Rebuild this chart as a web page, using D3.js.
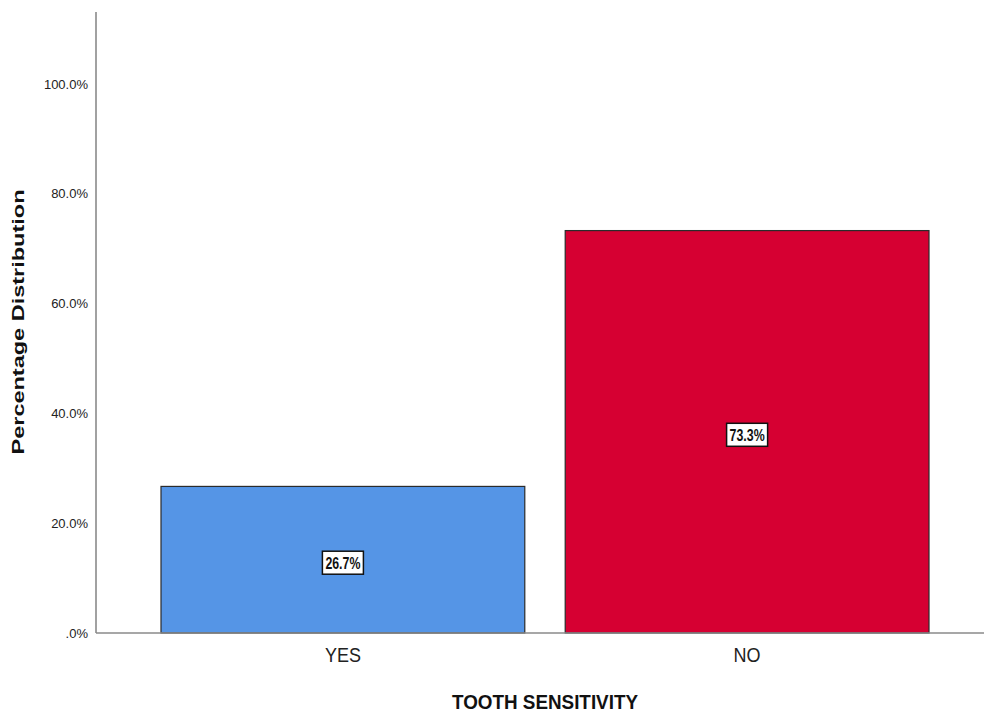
<!DOCTYPE html>
<html>
<head>
<meta charset="utf-8">
<script src="https://cdn.jsdelivr.net/npm/d3@7"></script>
<style>
  html, body { margin: 0; padding: 0; background: #fff; }
  svg { display: block; }
  text { font-family: "Liberation Sans", Arial, sans-serif; }
</style>
</head>
<body>
<svg id="chart" width="986" height="715"></svg>
<script>
// Tooth sensitivity distribution
const categories = ["YES", "NO"];
const percentages = [26.7, 73.3];
const barColors = ["#5595e6", "#d60032"];
const yTicks = [0, 20, 40, 60, 80, 100];
const yTickLabels = [".0%", "20.0%", "40.0%", "60.0%", "80.0%", "100.0%"];
const xTitle = "TOOTH SENSITIVITY";
const yTitle = "Percentage Distribution";

const svg = d3.select("#chart");

const axisX = 96, baseY = 633;

const y = d3.scaleLinear().domain([0, 100]).range([baseY, 84]);
const yMax = y.invert(12);

const x = d3.scaleBand()
  .domain(categories)
  .range([161, 929])
  .paddingInner(0.1)
  .paddingOuter(0);

// bars
svg.append("g").selectAll("rect")
  .data(categories)
  .join("rect")
  .attr("x", d => x(d))
  .attr("y", (d, i) => y(percentages[i]))
  .attr("width", x.bandwidth())
  .attr("height", (d, i) => y(0) - y(percentages[i]))
  .attr("fill", (d, i) => barColors[i])
  .attr("stroke", "#2b2b2b")
  .attr("stroke-width", 1.2);

// y axis
const yAxis = d3.axisLeft(y)
  .tickValues(yTicks)
  .tickFormat((d, i) => yTickLabels[i])
  .tickSize(0)
  .tickPadding(8);
const gy = svg.append("g").attr("transform", `translate(${axisX},0)`).call(yAxis);
gy.select(".domain").remove();
gy.selectAll("text")
  .attr("font-size", 13)
  .attr("fill", "#222")
  .attr("font-family", "Liberation Sans, Arial, sans-serif");
svg.append("line")
  .attr("x1", axisX).attr("x2", axisX)
  .attr("y1", y(yMax)).attr("y2", baseY)
  .attr("stroke", "#8a8a8a").attr("stroke-width", 1.6);

// x axis
const xAxis = d3.axisBottom(x).tickSize(0).tickPadding(14);
const gx = svg.append("g").attr("transform", `translate(0,${baseY})`).call(xAxis);
gx.select(".domain").remove();
gx.selectAll("text")
  .attr("font-size", 21)
  .attr("fill", "#222")
  .attr("font-family", "Liberation Sans, Arial, sans-serif")
  .attr("lengthAdjust", "spacingAndGlyphs")
  .attr("textLength", d => d === "YES" ? 36 : 27);
svg.append("line")
  .attr("x1", axisX).attr("x2", 984)
  .attr("y1", baseY).attr("y2", baseY)
  .attr("stroke", "#8a8a8a").attr("stroke-width", 1.6);

// value labels
const labels = svg.append("g").selectAll("g")
  .data(categories)
  .join("g")
  .attr("transform", (d, i) => {
    const cx = x(d) + x.bandwidth() / 2;
    const cy = (y(percentages[i]) + y(0)) / 2 + 3;
    return `translate(${cx},${cy})`;
  });
labels.append("rect")
  .attr("x", -20.5).attr("y", -11.5)
  .attr("width", 41).attr("height", 23)
  .attr("fill", "#fff")
  .attr("stroke", "#111")
  .attr("stroke-width", 1.5);
labels.append("text")
  .attr("text-anchor", "middle")
  .attr("y", 6)
  .attr("font-size", 16)
  .attr("font-weight", "bold")
  .attr("fill", "#111")
  .attr("lengthAdjust", "spacingAndGlyphs")
  .attr("textLength", 35)
  .text((d, i) => percentages[i].toFixed(1) + "%");

// axis titles
svg.append("text")
  .attr("x", 545).attr("y", 709)
  .attr("text-anchor", "middle")
  .attr("font-size", 21)
  .attr("font-weight", "bold")
  .attr("fill", "#111")
  .attr("lengthAdjust", "spacingAndGlyphs")
  .attr("textLength", 186)
  .text(xTitle);

svg.append("text")
  .attr("transform", "translate(24,322) rotate(-90)")
  .attr("text-anchor", "middle")
  .attr("font-size", 17)
  .attr("font-weight", "bold")
  .attr("fill", "#111")
  .attr("lengthAdjust", "spacingAndGlyphs")
  .attr("textLength", 265)
  .text(yTitle);
</script>
</body>
</html>
